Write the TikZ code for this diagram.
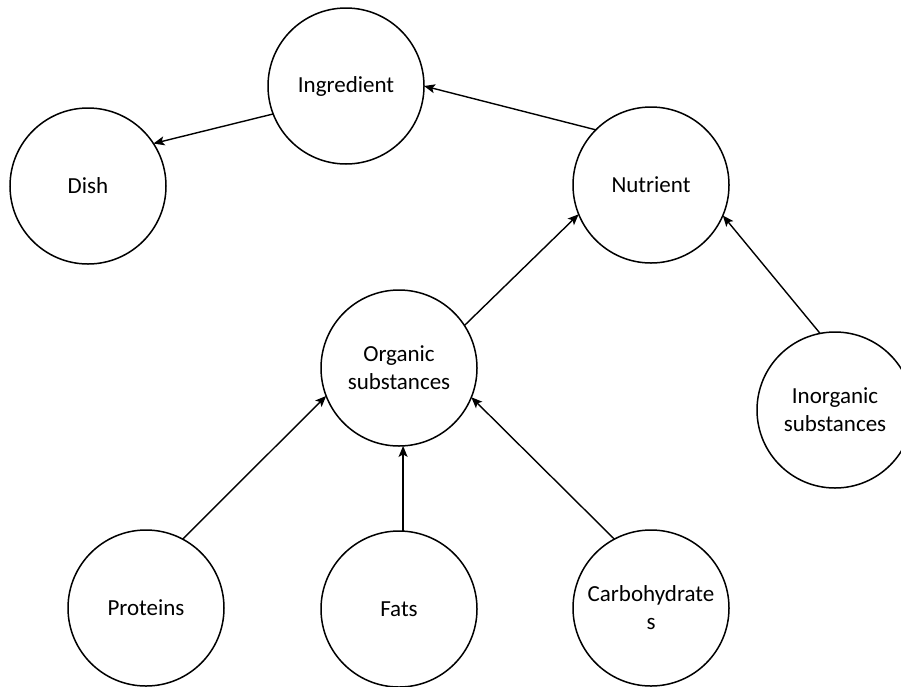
\documentclass[tikz,border=0pt]{standalone}
\usepackage{fontspec}
\setmainfont{Carlito}
\usetikzlibrary{arrows.meta}
\begin{document}
\begin{tikzpicture}[x=1pt,y=-1pt,
  concept/.style={circle,draw,line width=1.5pt,minimum size=156pt,inner sep=0pt,
    outer sep=0pt,align=center,font=\fontsize{23}{28}\selectfont},
  link/.style={line width=1.4pt,-{Stealth[length=11pt,width=9pt,inset=2.5pt]}}]
\useasboundingbox (0,0) rectangle (901,686);
% concepts
\node[concept] (ing)   at (346,86)  {Ingredient};
\node[concept] (dish)  at (88,186)  {Dish};
\node[concept] (nut)   at (651,185) {Nutrient};
\node[concept] (org)   at (399,368) {Organic\\substances};
\node[concept] (inorg) at (835,410) {Inorganic\\substances};
\node[concept] (prot)  at (146,608) {Proteins};
\node[concept] (fats)  at (399,609) {Fats};
\node[concept] (carb)  at (651,608) {Carbohydrate\\s};
% relations
\draw[link] (ing.201)   -- (dish.33);
\draw[link] (nut.135)   -- (ing.0);
\draw[link] (org.33)    -- (nut.202);
\draw[link] (inorg.101) -- (nut.337);
\draw[link] (prot.62)   -- (org.201);
\draw[link] (fats.87)   -- (org.273);
\draw[link] (carb.118)  -- (org.338);
\end{tikzpicture}
\end{document}
